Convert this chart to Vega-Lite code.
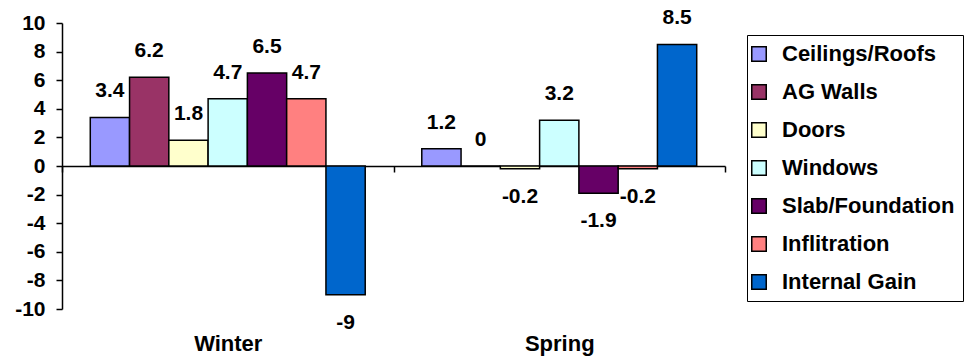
{
  "$schema": "https://vega.github.io/schema/vega-lite/v6.json",
  "width": 663,
  "height": 286,
  "autosize": {"type": "none"},
  "padding": {"left": 62, "top": 23, "right": 239, "bottom": 54},
  "background": "white",
  "config": {"view": {"stroke": null}, "font": "Liberation Sans"},
  "data": {
    "values": [
      {"season": "Winter", "component": "Ceilings/Roofs", "value": 3.4},
      {"season": "Winter", "component": "AG Walls", "value": 6.2},
      {"season": "Winter", "component": "Doors", "value": 1.8},
      {"season": "Winter", "component": "Windows", "value": 4.7},
      {"season": "Winter", "component": "Slab/Foundation", "value": 6.5},
      {"season": "Winter", "component": "Inflitration", "value": 4.7},
      {"season": "Winter", "component": "Internal Gain", "value": -9},
      {"season": "Spring", "component": "Ceilings/Roofs", "value": 1.2},
      {"season": "Spring", "component": "AG Walls", "value": 0},
      {"season": "Spring", "component": "Doors", "value": -0.2},
      {"season": "Spring", "component": "Windows", "value": 3.2},
      {"season": "Spring", "component": "Slab/Foundation", "value": -1.9},
      {"season": "Spring", "component": "Inflitration", "value": -0.2},
      {"season": "Spring", "component": "Internal Gain", "value": 8.5}
    ]
  },
  "encoding": {
    "x": {
      "field": "season", "type": "nominal", "sort": null,
      "scale": {"paddingInner": 0, "paddingOuter": 0},
      "axis": {
        "title": null, "orient": "bottom", "offset": -143, "labelAngle": 0,
        "domainColor": "black", "domainWidth": 1.5,
        "tickColor": "black", "tickWidth": 1.5, "tickSize": 6, "tickBand": "extent",
        "labelFontSize": 22, "labelFontWeight": "bold", "labelColor": "black",
        "labelPadding": 161
      }
    },
    "xOffset": {
      "field": "component", "type": "nominal", "sort": null,
      "scale": {"paddingInner": 0, "paddingOuter": 0.72}
    },
    "y": {
      "field": "value", "type": "quantitative", "stack": null,
      "scale": {"domain": [-10, 10], "nice": false},
      "axis": {
        "title": null, "grid": false,
        "values": [-10, -8, -6, -4, -2, 0, 2, 4, 6, 8, 10],
        "domainColor": "black", "domainWidth": 1.5,
        "tickColor": "black", "tickWidth": 1.5, "tickSize": 6,
        "labelFontSize": 21, "labelFontWeight": "bold", "labelColor": "black",
        "labelPadding": 11, "labelExpr": "datum.value + ''"
      }
    }
  },
  "layer": [
    {
      "mark": {"type": "bar", "stroke": "black", "strokeWidth": 1.5},
      "encoding": {
        "color": {
          "field": "component", "type": "nominal", "sort": null,
          "scale": {
            "domain": ["Ceilings/Roofs", "AG Walls", "Doors", "Windows", "Slab/Foundation", "Inflitration", "Internal Gain"],
            "range": ["#9999FF", "#993366", "#FFFFCC", "#CCFFFF", "#660066", "#FF8080", "#0066CC"]
          },
          "legend": {
            "title": null, "orient": "none", "legendX": 685, "legendY": 12,
            "strokeColor": "black", "fillColor": "white", "padding": 8,
            "symbolType": "square", "symbolSize": 210, "symbolOffset": -7,
            "symbolStrokeColor": "black", "symbolStrokeWidth": 1.5,
            "labelFontSize": 22, "labelFontWeight": "bold", "labelColor": "black",
            "labelLimit": 400, "rowPadding": 16, "labelOffset": 12
          }
        }
      }
    },
    {
      "transform": [
        {"filter": "datum.value >= 0"},
        {"calculate": "'' + datum.value", "as": "label"}
      ],
      "mark": {"type": "text", "dy": -26, "fontSize": 21, "fontWeight": "bold", "color": "black"},
      "encoding": {"text": {"field": "label", "type": "nominal"}}
    },
    {
      "transform": [
        {"filter": "datum.value < 0"},
        {"calculate": "'' + datum.value", "as": "label"}
      ],
      "mark": {"type": "text", "dy": 28, "fontSize": 21, "fontWeight": "bold", "color": "black"},
      "encoding": {"text": {"field": "label", "type": "nominal"}}
    }
  ]
}
